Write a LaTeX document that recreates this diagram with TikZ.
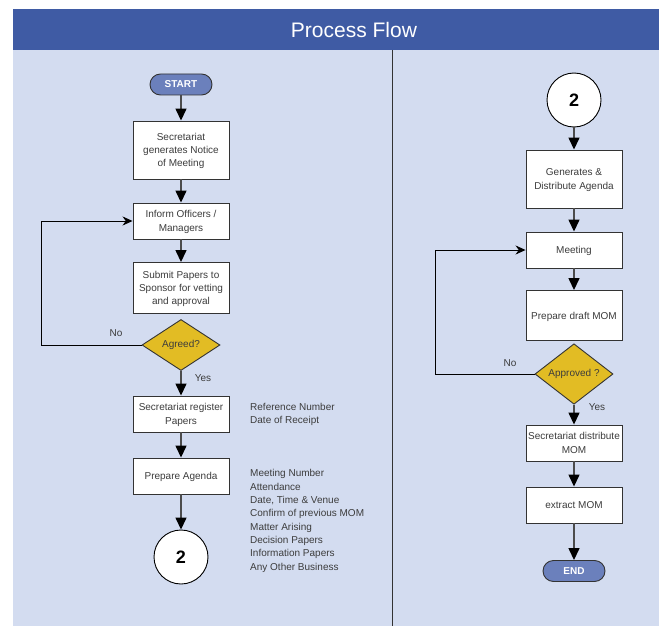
\documentclass[tikz,border=0pt]{standalone}
\usepackage{fontspec}
\setmainfont{Liberation Sans}
\usetikzlibrary{shapes.geometric,arrows.meta}
\definecolor{headblue}{HTML}{3F5BA4}
\definecolor{panelblue}{HTML}{D3DCF0}
\definecolor{termblue}{HTML}{6B80BC}
\definecolor{decgold}{HTML}{E2BC24}
\definecolor{txtgray}{HTML}{3C3C3C}

\begin{document}
\begin{tikzpicture}[x=1pt, y=-1pt,
    procbox/.style={draw=black!80, line width=0.9pt, fill=white, minimum width=96pt, align=center, text=txtgray, font=\fontsize{10}{13.3}\selectfont, inner sep=0pt, text depth=0pt},
    termbox/.style={draw=black!80, line width=0.9pt, fill=termblue, rounded corners=10.5pt, minimum width=62pt, minimum height=21pt, text=white, font=\fontsize{10}{12}\selectfont\bfseries, inner sep=0pt},
    decision/.style={diamond, draw=black!80, line width=0.9pt, fill=decgold, minimum width=78pt, minimum height=51pt, inner sep=0pt, text=txtgray, font=\fontsize{10}{12}\selectfont},
    connector/.style={circle, draw=black, line width=0.9pt, fill=white, minimum size=54pt, inner sep=0pt, font=\fontsize{18}{20}\selectfont\bfseries},
    flow/.style={draw=black!70, line width=1.4pt, -{Triangle[length=12pt, width=11pt, color=black]}},
    backflow/.style={draw=black, line width=0.9pt, -{Stealth[length=10pt, width=9pt]}},
    tag/.style={text=txtgray, font=\fontsize{10}{12}\selectfont},
    note/.style={text=txtgray, font=\fontsize{10}{13.3}\selectfont, align=left, anchor=north west, inner sep=0pt}
]
    \useasboundingbox (0,0) rectangle (659,626);
    \fill[white] (0,0) rectangle (659,626);
    \fill[panelblue] (13,50) rectangle (659,626);
    \fill[headblue] (13,9) rectangle (659,50);
    \node[text=white, font=\fontsize{21}{24}\selectfont] (title) at (354,30) {Process Flow};
    \draw[black!80, line width=1pt] (392,50) -- (392,626);

    \begin{scope}
        \node[termbox] (start) at (181,84.5) {START};
        \node[procbox, minimum height=58pt] (notice) at (181,150) {Secretariat\\generates Notice\\of Meeting};
        \node[procbox, minimum height=36pt] (inform) at (181,221) {Inform Officers /\\Managers};
        \node[procbox, minimum height=51pt] (submit) at (181,288) {Submit Papers to\\Sponsor for vetting\\and approval};
        \node[decision] (agreed) at (181,345) {Agreed?};
        \node[procbox, minimum height=36pt] (register) at (181,414) {Secretariat register\\Papers};
        \node[procbox, minimum height=36pt] (agenda) at (181,476) {Prepare Agenda};
        \node[connector] (offA) at (181,557) {2};

        \node[note] (regnote) at (250,403) {Reference Number\\Date of Receipt};
        \node[note] (agendanote) at (250,469.5) {Meeting Number\\Attendance\\Date, Time \& Venue\\Confirm of previous MOM\\Matter Arising\\Decision Papers\\Information Papers\\Any Other Business};

        \draw[flow] (start) -- (notice);
        \draw[flow] (notice) -- (inform);
        \draw[flow] (inform) -- (submit);
        \draw[flow] (agreed) -- (register);
        \draw[flow] (register) -- (agenda);
        \draw[flow] (agenda) -- (offA);
        \draw[backflow] (agreed.west) -| ([xshift=-91pt]inform.west) -- (inform.west);
        \node[tag] (noA) at (116,333) {No};
        \node[tag] (yesA) at (203,378) {Yes};
    \end{scope}

    \begin{scope}
        \node[connector] (offB) at (574,100) {2};
        \node[procbox, minimum height=58pt] (distagenda) at (574,179) {Generates \&\\Distribute Agenda};
        \node[procbox, minimum height=36pt] (meeting) at (574,250) {Meeting};
        \node[procbox, minimum height=50pt] (draft) at (574,315.5) {Prepare draft MOM};
        \node[decision] (approved) at (574,374) {Approved ?};
        \node[procbox, minimum height=36pt] (distmom) at (574,443) {Secretariat distribute\\MOM};
        \node[procbox, minimum height=36pt] (extract) at (574,505) {extract MOM};
        \node[termbox] (finish) at (574,571) {END};

        \draw[flow] (offB) -- (distagenda);
        \draw[flow] (distagenda) -- (meeting);
        \draw[flow] (meeting) -- (draft);
        \draw[flow] (approved) -- (distmom);
        \draw[flow] (distmom) -- (extract);
        \draw[flow] (extract) -- (finish);
        \draw[backflow] (approved.west) -| ([xshift=-90pt]meeting.west) -- (meeting.west);
        \node[tag] (noB) at (510,363) {No};
        \node[tag] (yesB) at (597,407) {Yes};
    \end{scope}
\end{tikzpicture}
\end{document}
